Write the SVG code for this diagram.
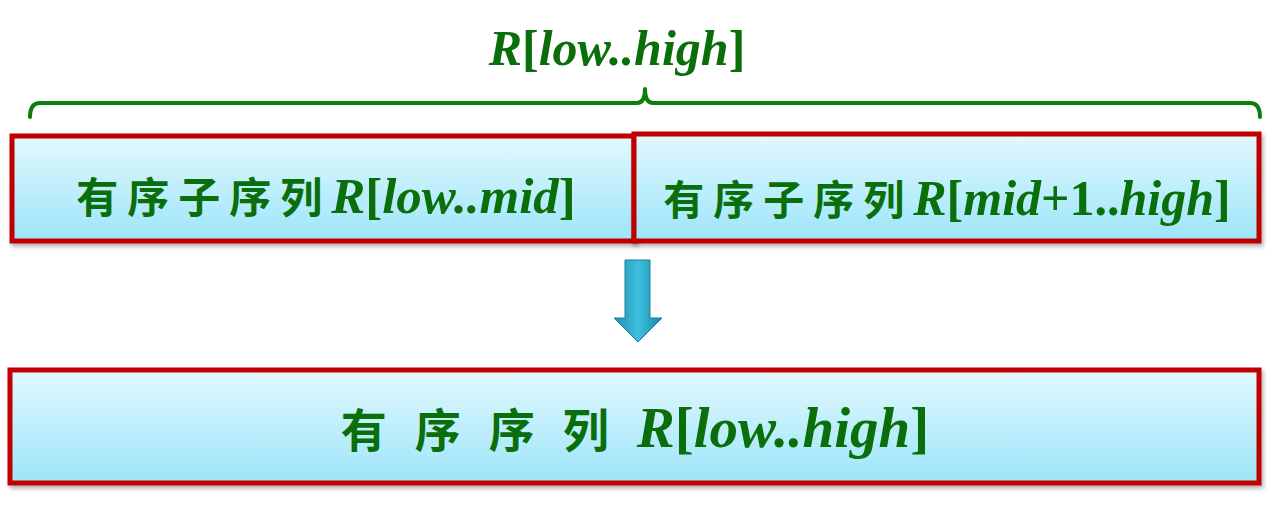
<svg xmlns="http://www.w3.org/2000/svg" width="1276" height="507" viewBox="0 0 1276 507">
<style>
.box{stroke:#C00000;stroke-width:5;fill:url(#g);filter:url(#sh)}
.t{font-family:"Liberation Serif","Times New Roman",serif;font-weight:bold;fill:#0A6E0A}
.cjk{font-family:"Noto Sans CJK SC",sans-serif;font-weight:bold}
.i{font-style:italic}
.br{fill:none;stroke:#0A800A;stroke-width:4;stroke-linecap:round;stroke-linejoin:round}
</style>
<defs>
<linearGradient id="g" x1="0" y1="0" x2="0" y2="1">
<stop offset="0" stop-color="#E2F8FD"/>
<stop offset="1" stop-color="#9DE5FA"/>
</linearGradient>
<linearGradient id="ag" x1="0" y1="0" x2="1" y2="0">
<stop offset="0" stop-color="#1E8FB0"/>
<stop offset="0.5" stop-color="#3FBFDF"/>
<stop offset="1" stop-color="#1A86A6"/>
</linearGradient>
<filter id="sh" x="-5%" y="-10%" width="110%" height="130%">
<feDropShadow dx="2" dy="3" stdDeviation="2" flood-color="#000" flood-opacity="0.3"/>
</filter>
</defs>
<g id="connectors">
<path class="br" d="M30,117 Q30,103 40,103 L637,103 Q645,103 645,89 Q645,103 653,103 L1250,103 Q1260,103 1260,117"/>
<path d="M625,260 L650,260 L650,318 L662,318 L638,342 L614,318 L625,318 Z" fill="url(#ag)" stroke="#1B7E9C" stroke-width="1"/>
</g>
<g id="title">
<text class="t" x="617" y="65" font-size="50" text-anchor="middle"><tspan class="i">R</tspan>[<tspan class="i">low..high</tspan>]</text>
</g>
<g id="left">
<rect class="box" x="12" y="136" width="622" height="105"/>
<text class="t" x="326" y="213" font-size="51" text-anchor="middle"><tspan class="cjk" font-size="42" letter-spacing="9">有序子序列</tspan><tspan class="i">R</tspan>[<tspan class="i">low..mid</tspan>]</text>
</g>
<g id="right">
<rect class="box" x="634" y="134" width="625" height="107"/>
<text class="t" x="947" y="215" font-size="50" text-anchor="middle"><tspan class="cjk" font-size="41" letter-spacing="9">有序子序列</tspan><tspan class="i">R</tspan>[<tspan class="i">mid</tspan>+1..<tspan class="i">high</tspan>]</text>
</g>
<g id="result">
<rect class="box" x="10" y="370" width="1249" height="113"/>
<text class="t" x="635" y="447" font-size="57" text-anchor="middle"><tspan class="cjk" font-size="46" letter-spacing="28">有序序列</tspan><tspan class="i">R</tspan>[<tspan class="i">low..high</tspan>]</text>
</g>
</svg>
